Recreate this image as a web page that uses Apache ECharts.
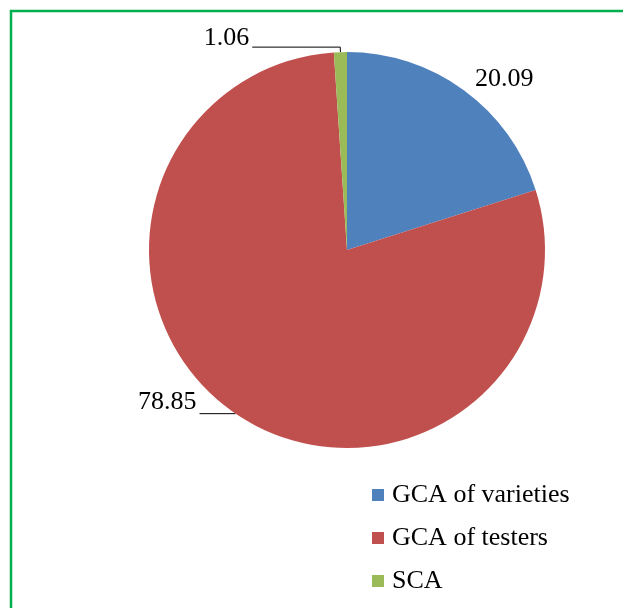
<!DOCTYPE html>
<html>
<head>
<meta charset="utf-8">
<script src="https://cdn.jsdelivr.net/npm/echarts@6/dist/echarts.min.js"></script>
<style>
  html, body { margin: 0; padding: 0; background: #fff; }
  #chart { width: 623px; height: 608px; }
</style>
</head>
<body>
<div id="chart"></div>
<script>
// data
const categories = ['GCA of varieties', 'GCA of testers', 'SCA']
const values = [20.09, 78.85, 1.06]
const colors = ['#4f81bd', '#c0504d', '#9bbb59']

// per-slice leader line tweaks (Excel-ish look)
const labelLines = [
  { show: false, length: 14, length2: 0 },
  { show: true, length: 0, length2: 36 },
  { show: true, length: 5, length2: 88 }
]
// an empty second line lifts the number above its leader line
const labelLift = [0, 22, 18]

const chart = echarts.init(document.getElementById('chart'))

const option = {
  animation: false,
  textStyle: { fontFamily: 'Liberation Serif' },
  graphic: [
    {
      type: 'polyline',
      shape: { points: [[11, 608], [11, 11], [623, 11]] },
      style: { stroke: '#00b050', lineWidth: 2.5, fill: null }
    }
  ],
  legend: {
    orient: 'vertical',
    left: 367,
    top: 477,
    itemWidth: 12,
    itemHeight: 12,
    itemGap: 17,
    icon: 'rect',
    textStyle: { fontFamily: 'Liberation Serif', fontSize: 26, color: '#000', padding: [0, 0, 0, 3] },
    data: categories
  },
  series: [
    {
      type: 'pie',
      center: [347, 250],
      radius: [0, 198],
      startAngle: 90,
      clockwise: true,
      avoidLabelOverlap: false,
      label: {
        show: true,
        position: 'outside',
        fontFamily: 'Liberation Serif',
        fontSize: 26,
        color: '#000',
        distanceToLabelLine: 3
      },
      labelLine: {
        lineStyle: { color: '#000', width: 1 }
      },
      emphasis: { disabled: true },
      data: categories.map((name, i) => ({
        name: name,
        value: values[i],
        itemStyle: { color: colors[i] },
        label: labelLift[i]
          ? { formatter: values[i].toFixed(2) + '\n ', lineHeight: labelLift[i] }
          : { formatter: values[i].toFixed(2) },
        labelLine: labelLines[i]
      }))
    }
  ]
}

chart.setOption(option)
</script>
</body>
</html>
